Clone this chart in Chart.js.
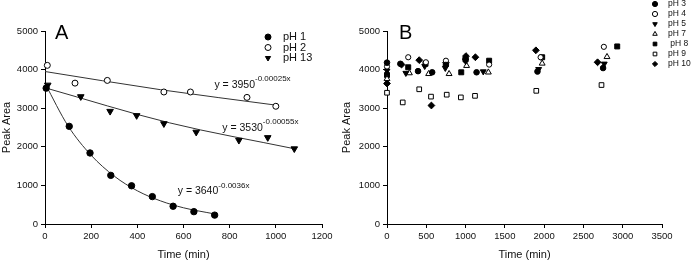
<!DOCTYPE html>
<html>
<head>
<meta charset="utf-8">
<title>Peak Area vs Time</title>
<script src="https://cdn.jsdelivr.net/npm/chart.js@4.4.1/dist/chart.umd.min.js"></script>
<style>
    body { margin: 0; background: #fff; }
    #chartA { position: absolute; left: 0; top: 0; }
    #chartB { position: absolute; left: 340px; top: 0; }
</style>
</head>
<body>
<canvas id="chartA" width="340" height="262"></canvas>
<canvas id="chartB" width="357" height="262"></canvas>
<script>
// ========================================
// DATA - panel A (time in min, peak area)
// ========================================
const timeA_pH1 = [5, 105, 195, 285, 375, 465, 555, 645, 735];
const areaA_pH1 = [3520, 2530, 1840, 1260, 990, 710, 460, 320, 230];
const timeA_pH2 = [10, 130, 270, 515, 630, 875, 1000];
const areaA_pH2 = [4110, 3650, 3720, 3420, 3420, 3280, 3050];
const timeA_pH13 = [12, 155, 282, 397, 515, 655, 840, 965, 1080];
const areaA_pH13 = [3600, 3300, 2920, 2810, 2600, 2380, 2170, 2240, 1950];

// fitted curves
const fitTimeA_pH1 = [0, 100, 200, 300, 400, 500, 600, 735];
const fitAreaA_pH1 = [3640, 2540, 1780, 1240, 860, 600, 420, 260];
const fitTimeA_pH2 = [0, 500, 1000];
const fitAreaA_pH2 = [3950, 3480, 3080];
const fitTimeA_pH13 = [0, 540, 1080];
const fitAreaA_pH13 = [3530, 2620, 1950];

// ========================================
// DATA - panel B
// ========================================
const timeB_pH3 = [0, 170, 395, 575, 750, 1000, 1140, 1915, 2750];
const areaB_pH3 = [4180, 4150, 3960, 3930, 4120, 4280, 3930, 3950, 4040];
const timeB_pH4 = [0, 270, 495, 750, 1300, 1955, 2760];
const areaB_pH4 = [4080, 4320, 4190, 4230, 4130, 4320, 4590];
const timeB_pH5 = [0, 240, 480, 742, 1000, 1225, 1930, 2765];
const areaB_pH5 = [3970, 3910, 4090, 4040, 4220, 3950, 4010, 4150];
const timeB_pH7 = [0, 285, 530, 790, 1013, 1290, 1975, 2800];
const areaB_pH7 = [3760, 3910, 3890, 3890, 4100, 3930, 4160, 4330];
const timeB_pH8 = [0, 270, 490, 945, 1000, 1300, 1975, 2930];
const areaB_pH8 = [3860, 4060, 4150, 3930, 4260, 4230, 4320, 4600];
const timeB_pH9 = [0, 200, 410, 560, 760, 940, 1120, 1900, 2730];
const areaB_pH9 = [3400, 3150, 3490, 3300, 3350, 3280, 3320, 3450, 3600];
const timeB_pH10 = [0, 185, 410, 565, 750, 1005, 1125, 1895, 2680];
const areaB_pH10 = [3640, 4130, 4245, 3070, 4180, 4350, 4320, 4500, 4190];

const yTicks = [0, 1000, 2000, 3000, 4000, 5000];
const xTicksA = [0, 200, 400, 600, 800, 1000, 1200];
const xTicksB = [0, 500, 1000, 1500, 2000, 2500, 3000, 3500];

const FONT = "'Liberation Sans', Arial, sans-serif";

function toPoints(xs, ys) {
    return xs.map((x, i) => ({ x: x, y: ys[i] }));
}

// marker dataset
function markers(label, xs, ys, style, filled, radius, rotation) {
    return {
        label: label,
        data: toPoints(xs, ys),
        pointStyle: style,
        rotation: rotation || 0,
        pointRadius: radius,
        pointBackgroundColor: filled ? '#000' : '#fff',
        pointBorderColor: '#000',
        pointBorderWidth: 1,
        backgroundColor: filled ? '#000' : '#fff',
        showLine: false,
        clip: false
    };
}

// fitted line dataset
function fitLine(xs, ys, tension) {
    return {
        isFit: true,
        data: toPoints(xs, ys),
        showLine: true,
        pointRadius: 0,
        borderColor: '#333',
        borderWidth: 1,
        tension: tension,
        cubicInterpolationMode: 'monotone',
        clip: false
    };
}

function axis(ticksList, title, fitSize, horizontal) {
    return {
        type: 'linear',
        min: ticksList[0],
        max: ticksList[ticksList.length - 1],
        border: { color: '#000', width: 1 },
        grid: { drawOnChartArea: false, drawTicks: true, tickLength: 4, color: '#000' },
        afterBuildTicks: function(scale) {
            scale.ticks = ticksList.map(v => ({ value: v }));
        },
        ticks: {
            color: '#111',
            padding: 3,
            maxRotation: 0,
            autoSkip: false,
            font: { family: FONT, size: 9.5 },
            callback: function(value) { return String(value); }
        },
        title: {
            display: true,
            text: title,
            color: '#111',
            font: { family: FONT, size: 11 },
            padding: { top: 0, bottom: 0 }
        },
        afterFit: function(scale) {
            if (horizontal) scale.height = fitSize;
            else scale.width = fitSize;
        }
    };
}

// letter, legend and equations drawn on the canvas
const panelText = {
    id: 'panelText',
    afterDatasetsDraw(chart, args, opts) {
        const ctx = chart.ctx;
        const area = chart.chartArea;
        const xs = chart.scales.x;
        const ys = chart.scales.y;

        ctx.save();
        ctx.fillStyle = '#000';
        ctx.textBaseline = 'middle';
        ctx.font = '20px ' + FONT;
        ctx.fillText(opts.letter, area.left + opts.letterDx, area.top + 2);

        // legend
        const lg = opts.legend;
        let row = 0;
        chart.data.datasets.forEach(ds => {
            if (ds.isFit) return;
            const y = lg.top + row * lg.rowH;
            const x = area.right + lg.dx;
            ctx.fillStyle = ds.pointBackgroundColor;
            ctx.strokeStyle = '#000';
            ctx.lineWidth = 1;
            Chart.helpers.drawPoint(ctx, {
                pointStyle: ds.pointStyle,
                rotation: ds.rotation,
                radius: lg.radius,
                borderWidth: 1
            }, x, y);
            ctx.fillStyle = '#111';
            ctx.font = lg.fontSize + 'px ' + FONT;
            ctx.fillText(ds.label, x + lg.textDx, y);
            row++;
        });

        // equations
        (opts.equations || []).forEach(eq => {
            const px = xs.getPixelForValue(eq.x);
            const py = ys.getPixelForValue(eq.y);
            ctx.fillStyle = '#111';
            ctx.font = '10.5px ' + FONT;
            ctx.fillText(eq.base, px, py);
            const w = ctx.measureText(eq.base).width;
            ctx.font = '8px ' + FONT;
            ctx.fillText(eq.exp, px + w, py - 6);
        });
        ctx.restore();
    }
};

// ========================================
// PANEL A
// ========================================
new Chart(document.getElementById('chartA'), {
    type: 'scatter',
    data: {
        datasets: [
            markers('pH 1', timeA_pH1, areaA_pH1, 'circle', true, 3.2),
            markers('pH 2', timeA_pH2, areaA_pH2, 'circle', false, 3),
            markers('pH 13', timeA_pH13, areaA_pH13, 'triangle', true, 3.8, 180),
            fitLine(fitTimeA_pH1, fitAreaA_pH1, 0.4),
            fitLine(fitTimeA_pH2, fitAreaA_pH2, 0.3),
            fitLine(fitTimeA_pH13, fitAreaA_pH13, 0.3)
        ]
    },
    options: {
        responsive: false,
        animation: false,
        layout: { padding: { left: 0, top: 31, right: 18, bottom: 0 } },
        scales: {
            x: axis(xTicksA, 'Time (min)', 38, true),
            y: axis(yTicks, 'Peak Area', 45, false)
        },
        plugins: {
            legend: { display: false },
            tooltip: { enabled: false },
            panelText: {
                letter: 'A',
                letterDx: 10,
                legend: { top: 37, rowH: 10.5, dx: -54, textDx: 15, radius: 3, fontSize: 11 },
                equations: [
                    { x: 734, y: 3600, base: 'y = 3950', exp: '-0.00025x' },
                    { x: 768, y: 2480, base: 'y = 3530', exp: '-0.00055x' },
                    { x: 575, y: 840, base: 'y = 3640', exp: '-0.0036x' }
                ]
            }
        }
    },
    plugins: [panelText]
});

// ========================================
// PANEL B
// ========================================
new Chart(document.getElementById('chartB'), {
    type: 'scatter',
    data: {
        datasets: [
            markers('pH 3', timeB_pH3, areaB_pH3, 'circle', true, 2.8),
            markers('pH 4', timeB_pH4, areaB_pH4, 'circle', false, 2.6),
            markers('pH 5', timeB_pH5, areaB_pH5, 'triangle', true, 3.4, 180),
            markers('pH 7', timeB_pH7, areaB_pH7, 'triangle', false, 3.4),
            markers(' pH 8', timeB_pH8, areaB_pH8, 'rect', true, 3.5),
            markers('pH 9', timeB_pH9, areaB_pH9, 'rect', false, 3.3),
            markers('pH 10', timeB_pH10, areaB_pH10, 'rectRot', true, 3.4)
        ]
    },
    options: {
        responsive: false,
        animation: false,
        layout: { padding: { left: 0, top: 31, right: 35, bottom: 0 } },
        scales: {
            x: axis(xTicksB, 'Time (min)', 38, true),
            y: axis(yTicks, 'Peak Area', 47, false)
        },
        plugins: {
            legend: { display: false },
            tooltip: { enabled: false },
            panelText: {
                letter: 'B',
                letterDx: 12,
                legend: { top: 4, rowH: 10, dx: -7, textDx: 13, radius: 2.6, fontSize: 8.5 }
            }
        }
    },
    plugins: [panelText]
});
</script>
</body>
</html>
